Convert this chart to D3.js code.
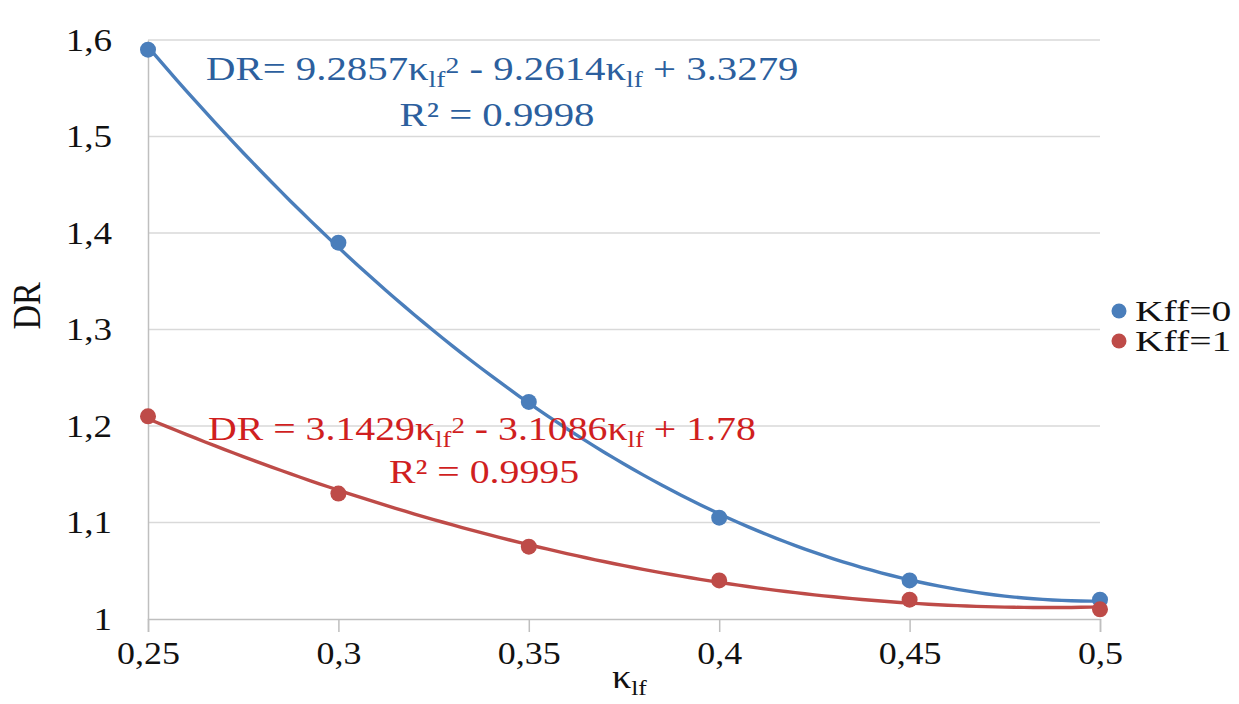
<!DOCTYPE html>
<html>
<head>
<meta charset="utf-8">
<script src="https://cdn.jsdelivr.net/npm/d3@7"></script>
<style>
  html, body { margin: 0; padding: 0; background: #fff; }
  svg { display: block; }
  text { font-family: "Liberation Serif", "Times New Roman", serif; }
</style>
</head>
<body>
<svg id="chart" width="1239" height="704"></svg>
<script>
// κlf values (x axis)
const kappa = [0.25, 0.3, 0.35, 0.4, 0.45, 0.5];
// DR measured for Kff = 0 and Kff = 1
const drKff0 = [1.59, 1.39, 1.225, 1.105, 1.04, 1.02];
const drKff1 = [1.21, 1.13, 1.075, 1.04, 1.02, 1.01];
const seriesNames = ["Kff=0", "Kff=1"];
const xTicks = [0.25, 0.3, 0.35, 0.4, 0.45, 0.5];
const yTicks = [1, 1.1, 1.2, 1.3, 1.4, 1.5, 1.6];

const colors = ["#4a7ebb", "#be4b48"];
const eqColors = ["#2c5f9e", "#d01f1f"];
const SX = 1.16; // glyphs are drawn slightly wide

const svg = d3.select("#chart");
const x = d3.scaleLinear().domain([0.25, 0.5]).range([148, 1100]);
const y = d3.scaleLinear().domain([1, 1.6]).range([619, 40]);
const fmt = v => String(v).replace(".", ",");

// place a text at (px, py) with horizontal widening
function wideText(parent, px, py, size, color, anchor, sx) {
  return parent.append("text")
    .attr("transform", `translate(${px},${py}) scale(${sx || SX},1)`)
    .attr("text-anchor", anchor || "start")
    .attr("font-size", size).attr("fill", color);
}

// horizontal gridlines
svg.append("g")
  .selectAll("line")
  .data(yTicks.filter(v => v > 1))
  .join("line")
  .attr("x1", x(0.25)).attr("x2", x(0.5))
  .attr("y1", d => y(d)).attr("y2", d => y(d))
  .attr("stroke", "#d9d9d9").attr("stroke-width", 1.3);

// x axis
const xAxis = svg.append("g")
  .attr("transform", `translate(0,${y(1)})`)
  .call(d3.axisBottom(x).tickValues(xTicks).tickFormat(fmt).tickSize(13).tickPadding(10));
xAxis.select(".domain").attr("stroke", "#bfbfbf").attr("stroke-width", 1.5);
xAxis.selectAll(".tick line").attr("stroke", "#bfbfbf").attr("stroke-width", 1.5);
xAxis.selectAll("text")
  .attr("font-family", "Liberation Serif").attr("font-size", 31).attr("fill", "#111")
  .attr("transform", `scale(${SX},1)`);

// y axis
const yAxis = svg.append("g")
  .attr("transform", `translate(${x(0.25)},0)`)
  .call(d3.axisLeft(y).tickValues(yTicks).tickFormat(fmt).tickSize(0).tickPadding(31));
yAxis.select(".domain").attr("stroke", "#bfbfbf").attr("stroke-width", 1.5);
yAxis.selectAll("text")
  .attr("font-family", "Liberation Serif").attr("font-size", 32).attr("fill", "#111")
  .attr("transform", `scale(${SX},1)`);

// axis titles
svg.append("text")
  .attr("transform", `translate(40,306) rotate(-90) scale(1,${SX})`)
  .attr("text-anchor", "middle")
  .attr("font-size", 34).attr("fill", "#111")
  .text("DR");

const xt = wideText(svg, 612, 688, 33, "#111");
xt.append("tspan").text("κ");
xt.append("tspan").attr("font-size", 22).attr("dy", 7).text("lf");

// quadratic least-squares trendline coefficients [a, b, c] for y = a x² + b x + c
function quadFit(xs, ys) {
  const s = k => d3.sum(xs, v => Math.pow(v, k));
  const t = k => d3.sum(xs, (v, i) => Math.pow(v, k) * ys[i]);
  const M = [[s(4), s(3), s(2)], [s(3), s(2), s(1)], [s(2), s(1), xs.length]];
  const r = [t(2), t(1), t(0)];
  const det = m => m[0][0]*(m[1][1]*m[2][2]-m[1][2]*m[2][1]) - m[0][1]*(m[1][0]*m[2][2]-m[1][2]*m[2][0]) + m[0][2]*(m[1][0]*m[2][1]-m[1][1]*m[2][0]);
  const D = det(M);
  return [0, 1, 2].map(j => det(M.map((row, i) => row.map((v, k) => k === j ? r[i] : v))) / D);
}

const allSeries = [drKff0, drKff1];
allSeries.forEach((vals, si) => {
  const [a, b, c] = quadFit(kappa, vals);
  const xs = d3.range(0.25, 0.50001, 0.0025);
  svg.append("path")
    .datum(xs)
    .attr("fill", "none")
    .attr("stroke", colors[si])
    .attr("stroke-width", 3.4)
    .attr("d", d3.line().x(d => x(d)).y(d => y(a * d * d + b * d + c)));
});

allSeries.forEach((vals, si) => {
  svg.append("g")
    .selectAll("circle")
    .data(vals)
    .join("circle")
    .attr("cx", (d, i) => x(kappa[i]))
    .attr("cy", d => y(d))
    .attr("r", 8)
    .attr("fill", colors[si]);
});

// trendline equations
function equation(parts, color, x0, y0, mid, y1, r2, sx) {
  const t = wideText(svg, x0, y0, 34, color, "start", sx);
  parts.forEach(p => {
    const sp = t.append("tspan").text(p.t);
    if (p.sub) sp.attr("font-size", 23).attr("dy", 7);
    if (p.sup) sp.attr("font-size", 23).attr("dy", -14);
    if (p.reset) sp.attr("dy", p.reset);
  });
  wideText(svg, mid, y1, 34, color, "middle", sx).text(r2);
}

equation([
  { t: "DR= 9.2857κ" }, { t: "lf", sub: true }, { t: "2", sup: true },
  { t: " - 9.2614κ", reset: 7 }, { t: "lf", sub: true }, { t: " + 3.3279", reset: -7 }
], eqColors[0], 206, 80, 497, 126, "R² = 0.9998", 1.2);

equation([
  { t: "DR = 3.1429κ" }, { t: "lf", sub: true }, { t: "2", sup: true },
  { t: " - 3.1086κ", reset: 7 }, { t: "lf", sub: true }, { t: " + 1.78", reset: -7 }
], eqColors[1], 208, 440, 484, 483, "R² = 0.9995", 1.17);

// legend
const legend = svg.append("g");
seriesNames.forEach((name, i) => {
  legend.append("circle").attr("cx", 1119).attr("cy", 311 + i * 30).attr("r", 7.5).attr("fill", colors[i]);
  wideText(legend, 1135, 321 + i * 30, 30, "#111", "start", 1.32).text(name);
});
</script>
</body>
</html>
